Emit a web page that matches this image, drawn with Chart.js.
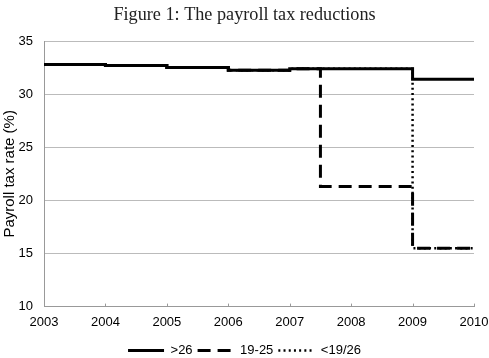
<!DOCTYPE html>
<html><head><meta charset="utf-8">
<script src="https://cdn.jsdelivr.net/npm/chart.js@4/dist/chart.umd.min.js"></script>
<style>html,body{margin:0;padding:0;background:#fff;}#wrap{width:489px;height:358px;}</style>
</head><body><div id="wrap"><canvas id="c" width="489" height="358"></canvas></div>
<script>
// Data (step breakpoints: value holds from year to next year)
const seriesNames = [">26", "19-25", "<19/26"];
const over26Years = [2003, 2004, 2005, 2006, 2007, 2009, 2010];
const over26Rates = [32.8, 32.7, 32.5, 32.25, 32.4, 31.4, 31.4];
const age1925Years = [2003, 2004, 2005, 2006, 2007, 2007.5, 2009, 2010];
const age1925Rates = [32.8, 32.7, 32.5, 32.25, 32.4, 21.3, 15.5, 15.5];
const under19Years = [2003, 2004, 2005, 2006, 2007, 2009, 2010];
const under19Rates = [32.8, 32.7, 32.5, 32.25, 32.4, 15.5, 15.5];
const yearTicks = [2003, 2004, 2005, 2006, 2007, 2008, 2009, 2010];

const toPts = (xs, ys) => xs.map((x, i) => ({x: x, y: ys[i]}));

const insideTicks = {
  id: 'insideTicks',
  afterDatasetsDraw(chart) {
    const xs = chart.scales.x, ctx = chart.ctx, b = chart.chartArea.bottom;
    ctx.save();
    ctx.strokeStyle = '#999'; ctx.lineWidth = 1;
    yearTicks.forEach(v => {
      const px = Math.round(xs.getPixelForValue(v)) + 0.5;
      ctx.beginPath(); ctx.moveTo(px, b - 3); ctx.lineTo(px, b); ctx.stroke();
    });
    ctx.restore();
  }
};

new Chart(document.getElementById('c'), {
  type: 'line',
  data: {
    datasets: [
      {label: seriesNames[0], data: toPts(over26Years, over26Rates), borderColor: '#000', borderWidth: 3, stepped: true, pointRadius: 0, fill: false},
      {label: seriesNames[1], data: toPts(age1925Years, age1925Rates), borderColor: '#000', borderWidth: 3, borderDash: [13, 7], stepped: true, pointRadius: 0, fill: false},
      {label: seriesNames[2], data: toPts(under19Years, under19Rates), borderColor: '#000', borderWidth: 2.5, borderDash: [2, 3.2], stepped: true, pointRadius: 0, fill: false}
    ]
  },
  plugins: [insideTicks],
  options: {
    responsive: false,
    animation: false,
    layout: {padding: {left: 0, right: 0, top: 0, bottom: -9}},
    plugins: {
      title: {display: true, text: 'Figure 1: The payroll tax reductions', color: '#222',
        font: {family: 'Liberation Serif', size: 18.2, weight: 'normal'}, padding: {top: 4, bottom: 15.2}},
      legend: {position: 'bottom',
        labels: {color: '#000', font: {family: 'Liberation Sans', size: 13}, usePointStyle: true, pointStyle: 'line',
          pointStyleWidth: 36, boxWidth: 36, boxHeight: 13, padding: 5,
          generateLabels: chart => chart.data.datasets.map((ds, i) => ({
            text: ds.label, datasetIndex: i, fillStyle: ds.borderColor, strokeStyle: ds.borderColor,
            lineWidth: ds.borderWidth, lineDash: ds.borderDash || [], pointStyle: 'line', fontColor: '#000', hidden: false
          }))}},
      tooltip: {enabled: false}
    },
    scales: {
      x: {type: 'linear', min: 2003, max: 2010,
        afterBuildTicks: s => { s.ticks = yearTicks.map(v => ({value: v})); },
        ticks: {color: '#000', font: {family: 'Liberation Sans', size: 13}, callback: v => String(v), maxRotation: 0, padding: 8.4},
        grid: {display: true, drawOnChartArea: false, drawTicks: false, color: '#999'},
        border: {color: '#999'},
        afterFit: s => { s.paddingRight = 15; s.paddingLeft = 0; }
      },
      y: {min: 10, max: 35,
        ticks: {stepSize: 5, color: '#000', font: {family: 'Liberation Sans', size: 13}, padding: 11},
        grid: {color: '#bbb', drawTicks: false},
        border: {color: '#999'},
        title: {display: true, text: 'Payroll tax rate (%)', color: '#000', font: {family: 'Liberation Sans', size: 15}, padding: {top: 1, bottom: 0}},
        afterFit: s => { s.width = 44; }
      }
    }
  }
});
</script></body></html>
